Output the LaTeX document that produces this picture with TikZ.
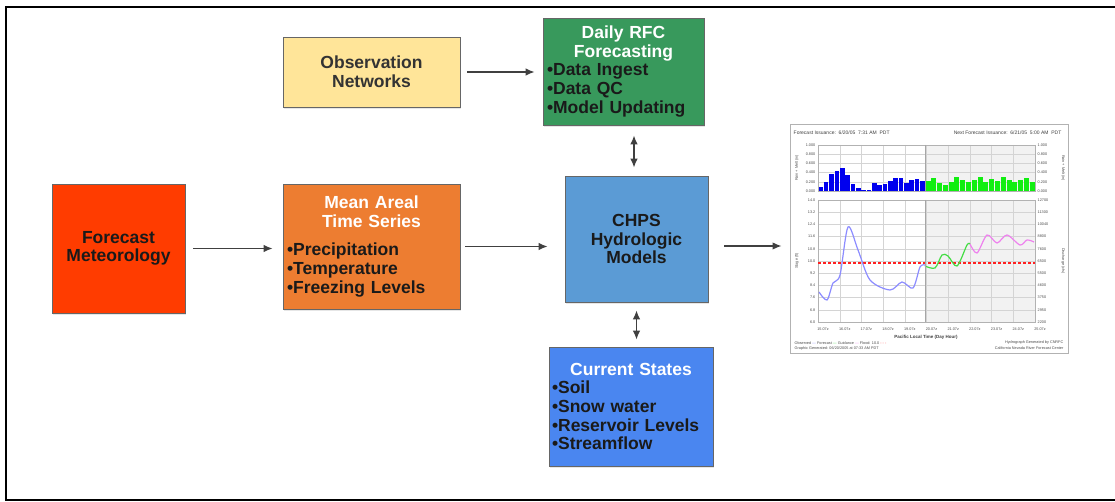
\documentclass[tikz,border=0pt]{standalone}
\usepackage{fontspec}
\setmainfont{Liberation Sans}
\usepackage{xcolor}
\usetikzlibrary{arrows.meta,positioning,calc,shadows}
\definecolor{metfill}{HTML}{FF3C00}
\definecolor{arealfill}{HTML}{ED7D31}
\definecolor{obsfill}{HTML}{FFE599}
\definecolor{rfcfill}{HTML}{38995C}
\definecolor{chpsfill}{HTML}{5B9BD5}
\definecolor{statefill}{HTML}{4A86F0}
\definecolor{ink}{HTML}{1A1A1A}
\definecolor{rule}{HTML}{666666}
\definecolor{obsline}{HTML}{8C8CFF}
\definecolor{fcline}{HTML}{44DD44}
\definecolor{guideline}{HTML}{EE82EE}
\definecolor{floodline}{HTML}{FF2020}
\definecolor{barobs}{HTML}{0000EE}
\definecolor{barfc}{HTML}{11EE11}
\definecolor{gridc}{HTML}{D4D4D4}
\tikzset{
  box/.style={rectangle, draw=rule, line width=0.8pt, inner sep=0pt, text=ink,
              font=\fontsize{17.5}{18.6}\selectfont\bfseries, align=center,
              drop shadow={opacity=0.2, shadow xshift=1pt, shadow yshift=-2pt}},
  listbox/.style={box, align=left},
  fl/.style={-{Latex[length=9pt,width=7.5pt]}, draw=black!75, line width=1.3pt},
  dfl/.style={{Latex[length=9pt,width=7.5pt]}-{Latex[length=9pt,width=7.5pt]}, draw=black!75, line width=1.3pt},
  charttxt/.style={font=\fontsize{5}{5.5}\selectfont, text=black!75, inner sep=0.5pt},
  ticklbl/.style={font=\fontsize{3.8}{4}\selectfont, text=black!70, inner sep=0.5pt}
}
\newcommand{\boxhead}[1]{{\centering\color{white}#1\par}}

\begin{document}
\begin{tikzpicture}[x=1pt, y=-1pt]
  \useasboundingbox (0,0) rectangle (1115,502);
  \draw[line width=2.5pt] (6,7) rectangle (1120,500);

  % flow boxes
  \node[box, fill=metfill, minimum width=133pt, minimum height=129pt] (met) at (118.5,248.5) {Forecast\\Meteorology};
  \node[listbox, fill=arealfill, minimum width=177pt, minimum height=125pt, text width=169pt] (areal) at (371.5,246.5)
    {\boxhead{Mean Areal\\Time Series}\vspace{10pt}•Precipitation\\•Temperature\\•Freezing Levels};
  \node[box, fill=obsfill, text=black!80, minimum width=177pt, minimum height=70pt] (obs) at (371.5,72) {Observation\\Networks};
  \node[listbox, fill=rfcfill, minimum width=161pt, minimum height=107pt, text width=153pt] (rfc) at (623.5,71.5)
    {\boxhead{Daily RFC\\Forecasting}•Data Ingest\\•Data QC\\•Model Updating};
  \node[box, fill=chpsfill, minimum width=143pt, minimum height=126pt] (chps) at (636.5,239) {CHPS\\Hydrologic\\Models};
  \node[listbox, fill=statefill, minimum width=164pt, minimum height=119pt, text width=158pt] (state) at (631,406.5)
    {\boxhead{Current States}•Soil\\•Snow water\\•Reservoir Levels\\•Streamflow};
  \node[draw=gray!60, line width=1pt, fill=white, minimum width=278pt, minimum height=228pt, inner sep=0pt] (plot) at (929,239) {};

  % connectors
  \coordinate (chpsout) at ($(chps.east)+(0,7)$);
  \coordinate (rfcin) at ($(chps.north)+(-2.5,0)$);
  \draw[fl, shorten <=8pt, shorten >=10pt] (met.east) -- (met.east -| areal.west);
  \draw[fl, shorten <=7pt, shorten >=8pt] (obs.east) -- (obs.east -| rfc.west);
  \draw[fl, shorten <=5pt, shorten >=17pt] (areal.east) -- (areal.east -| chps.west);
  \draw[fl, shorten <=16pt, shorten >=8pt] (chpsout) -- (chpsout -| plot.west);
  \draw[dfl, shorten <=8pt, shorten >=10pt] (rfcin) -- (rfcin |- rfc.south);
  \draw[dfl, shorten <=8pt, shorten >=7pt] (chps.south) -- (chps.south |- state.north);

  % hydrograph
  \node[charttxt, anchor=west] (iss) at (793,133) {Forecast Issuance:\ \ 6/20/05\ \ 7:31 AM\ \ PDT};
  \node[charttxt, anchor=east] (nxt) at (1062,133) {Next Forecast Issuance:\ \ 6/21/05\ \ 5:00 AM\ \ PDT};
  \fill[gray!10] (925,145) rectangle (1035,191);
  \fill[gray!10] (925,200) rectangle (1035,322);
  \foreach \gx in {0,...,10} {
    \draw[gridc, line width=0.3pt] ({818+21.7*\gx},145) -- ++(0,46);
    \draw[gridc, line width=0.3pt] ({818+21.7*\gx},200) -- ++(0,122);
  }
  \foreach \k in {0,...,5}
    \draw[gridc, line width=0.3pt] (818,{145+9.2*\k}) -- (1035,{145+9.2*\k});
  \foreach \k in {0,...,10}
    \draw[gridc, line width=0.3pt] (818,{200+12.2*\k}) -- (1035,{200+12.2*\k});
  \foreach \h [count=\i from 0] in {4,9,17,20,23,16,7,3,1,1,8,6,7,10,13,13,8,11,12,10}
    \fill[barobs] ({818.5+5.35*\i},191) rectangle ++(4.6,-\h);
  \foreach \h [count=\i from 0] in {10,13,8,6,9,14,11,9,11,14,9,12,10,14,11,9,11,13,9}
    \fill[barfc] ({925.5+5.79*\i},191) rectangle ++(5,-\h);
  \draw[gray!60, line width=0.4pt] (818,145) rectangle (1035,191);
  \draw[gray!60, line width=0.4pt] (818,200) rectangle (1035,322);
  \draw[draw=floodline, line width=1.1pt, dash pattern=on 3pt off 2pt] (818,263) -- (1035,263);
  \draw[obsline, line width=1.2pt] plot[smooth] coordinates {(819,292) (827,300) (833,283) (840,275) (848,227) (858,250) (870,280) (890,290) (902,282) (913,288) (920,267) (925,265)};
  \draw[fcline, line width=1.2pt] plot[smooth] coordinates {(925,266) (935,268) (942,255) (948,256) (957,266) (967,245) (970,244)};
  \draw[guideline, line width=1.2pt] plot[smooth] coordinates {(970,244) (977,253) (987,235) (997,243) (1007,235) (1020,245) (1027,240) (1034,242)};
  \draw[gray!70, line width=0.8pt] (925,145) -- (925,191) (925,200) -- (925,322);
  \foreach \v [count=\k from 0] in {1.000,0.800,0.600,0.400,0.200,0.000} {
    \node[ticklbl, anchor=east] (pl\k) at (816,{145+9.2*\k}) {\v};
    \node[ticklbl, anchor=west] (pr\k) at (1037,{145+9.2*\k}) {\v};
  }
  \foreach \v/\w [count=\k from 0] in {14.0/12700,13.2/11300,12.4/10040,11.6/8800,10.8/7600,10.0/6500,9.2/5500,8.4/4600,7.6/3750,6.8/2950,6.0/2200} {
    \node[ticklbl, anchor=east] (sl\k) at (816,{200+12.2*\k}) {\v};
    \node[ticklbl, anchor=west] (sr\k) at (1037,{200+12.2*\k}) {\w};
  }
  \foreach \d [count=\k from 0] in {15,...,25}
    \node[ticklbl] (day\k) at ({823+21.7*\k},329) {\d.07z};
  \node[ticklbl, rotate=90] (ylt) at (797,168) {Rain + Melt (in)};
  \node[ticklbl, rotate=90] (ylb) at (797,261) {Stage (ft)};
  \node[ticklbl, rotate=-90] (yrt) at (1063,168) {Rain + Melt (in)};
  \node[ticklbl, rotate=-90] (yrb) at (1063,261) {Discharge (cfs)};
  \node[charttxt, font=\fontsize{4.5}{5}\selectfont\bfseries] (xl) at (926,337) {Pacific Local Time (Day Hour)};
  \node[ticklbl, anchor=west] (leg) at (794,343) {Observed \textcolor{obsline}{---}\ Forecast \textcolor{fcline}{---}\ Guidance \textcolor{guideline}{---}\ Flood: 10.0 \textcolor{floodline}{- - -}};
  \node[ticklbl, anchor=west] (gen) at (794,348.5) {Graphic Generated: 06/20/2005 at 07:33 AM PDT};
  \node[ticklbl, anchor=east] (src1) at (1064,343) {Hydrograph Generated by CNRFC};
  \node[ticklbl, anchor=east] (src2) at (1064,348.5) {California Nevada River Forecast Center};
\end{tikzpicture}
\end{document}
